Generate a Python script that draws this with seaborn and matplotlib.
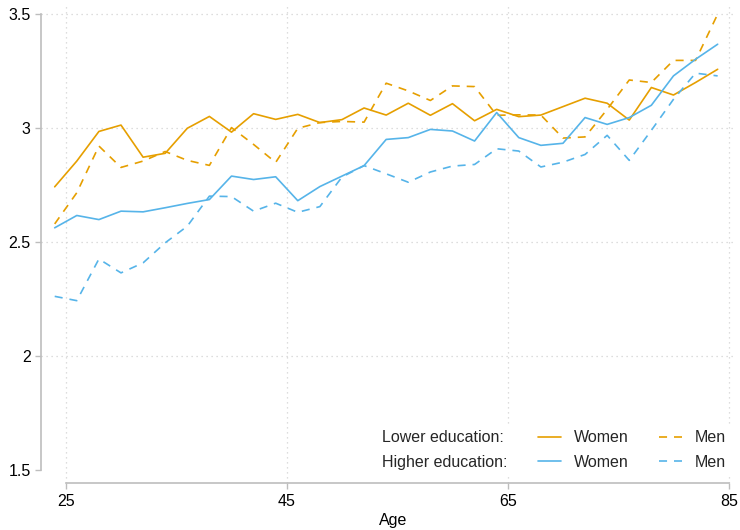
import matplotlib
matplotlib.use("Agg")
import matplotlib.pyplot as plt
from matplotlib.lines import Line2D
import numpy as np
import pandas as pd
import seaborn as sns

# Mean score by age, education group and sex
ages = [24, 26, 28, 30, 32, 34, 36, 38, 40, 42, 44, 46, 48, 50, 52, 54,
        56, 58, 60, 62, 64, 66, 68, 70, 72, 74, 76, 78, 80, 82, 84]

women_lower = [2.742, 2.855, 2.985, 3.013, 2.872, 2.889, 2.999, 3.051, 2.982, 3.063,
               3.038, 3.060, 3.024, 3.037, 3.088, 3.057, 3.109, 3.056, 3.107, 3.032,
               3.082, 3.050, 3.057, 3.094, 3.131, 3.109, 3.035, 3.178, 3.145, 3.200,
               3.258]
men_lower = [2.579, 2.716, 2.921, 2.827, 2.855, 2.897, 2.858, 2.836, 3.002, 2.928,
             2.849, 2.999, 3.024, 3.029, 3.026, 3.197, 3.163, 3.121, 3.185, 3.182,
             3.056, 3.058, 3.057, 2.956, 2.961, 3.082, 3.211, 3.200, 3.297, 3.297,
             3.500]
women_higher = [2.562, 2.616, 2.598, 2.635, 2.632, 2.650, 2.669, 2.686, 2.789, 2.774,
                2.786, 2.681, 2.743, 2.789, 2.835, 2.950, 2.958, 2.994, 2.987, 2.943,
                3.068, 2.958, 2.924, 2.933, 3.046, 3.016, 3.046, 3.100, 3.229, 3.302,
                3.368]
men_higher = [2.261, 2.242, 2.425, 2.364, 2.408, 2.496, 2.569, 2.701, 2.699, 2.635,
              2.670, 2.630, 2.655, 2.785, 2.835, 2.799, 2.762, 2.807, 2.833, 2.840,
              2.909, 2.899, 2.829, 2.850, 2.884, 2.968, 2.858, 2.990, 3.126, 3.241,
              3.229]

x_ticks = [25, 45, 65, 85]
y_ticks = [1.5, 2, 2.5, 3, 3.5]
y_tick_labels = ["1.5", "2", "2.5", "3", "3.5"]

ORANGE = "#E69F00"
BLUE = "#56B4E9"
AXIS_GREY = "#bdbdbd"
GRID_GREY = "#d2d2d2"
FS = 11.5

frames = []
for edu, sex, vals in [("Lower", "Women", women_lower), ("Lower", "Men", men_lower),
                       ("Higher", "Women", women_higher), ("Higher", "Men", men_higher)]:
    frames.append(pd.DataFrame({"age": ages, "score": vals, "edu": edu, "sex": sex}))
df = pd.concat(frames, ignore_index=True)

sns.set_theme(style="white")
plt.rcParams["font.family"] = ["Liberation Sans", "DejaVu Sans"]

LW = 1.2
DASH = (0, (5.8 / LW, 5.0 / LW))
fig = plt.figure(figsize=(7.4, 5.3), dpi=100)
ax = fig.add_axes([41 / 740, 1 - 483.3 / 530, 694 / 740, (483.3 - 3.7) / 530])

sns.lineplot(data=df, x="age", y="score", hue="edu", style="sex",
             palette={"Lower": ORANGE, "Higher": BLUE},
             dashes={"Women": "", "Men": DASH[1]},
             linewidth=LW, legend=False, ax=ax, zorder=3)

ax.set_xlim(22.76, 85.57)
ax.set_ylim(1.44, 3.546)

ax.set_xticks(x_ticks)
ax.set_xticklabels([str(t) for t in x_ticks])
ax.set_yticks(y_ticks)
ax.set_yticklabels(y_tick_labels)

# dotted grid at interior reference values
for gx in x_ticks:
    ax.axvline(gx, color=GRID_GREY, lw=0.9, ls=(0, (1, 3)), zorder=1)
for gy in [2, 2.5, 3, 3.5]:
    ax.axhline(gy, color=GRID_GREY, lw=0.9, ls=(0, (1, 3)), zorder=1)

for side in ["top", "right"]:
    ax.spines[side].set_visible(False)
ax.spines["left"].set_bounds(1.5, 3.5)
ax.spines["bottom"].set_bounds(25, 85)
for side in ["left", "bottom"]:
    ax.spines[side].set_color(AXIS_GREY)
    ax.spines[side].set_linewidth(1.2)

ax.tick_params(axis="both", direction="out", length=4.5, width=1.0,
               color=AXIS_GREY, labelcolor="black", labelsize=FS, pad=3,
               left=True, bottom=True)

ax.set_xlabel("Age", fontsize=FS, color="black")
ax.xaxis.set_label_coords(0.508, -0.062)
ax.set_ylabel("")

blank = Line2D([], [], color="none")
handles = [blank, blank,
           Line2D([], [], color=ORANGE, lw=LW),
           Line2D([], [], color=BLUE, lw=LW),
           Line2D([], [], color=ORANGE, lw=LW, ls=DASH),
           Line2D([], [], color=BLUE, lw=LW, ls=DASH)]
labels = ["Lower education:", "Higher education:", "Women", "Women", "Men", "Men"]
leg = ax.legend(handles, labels, ncol=3, loc="lower right",
                bbox_to_anchor=(732 / 740, 1 - 476 / 530),
                bbox_transform=fig.transFigure,
                fontsize=FS, frameon=True, fancybox=False,
                handlelength=1.4, handletextpad=0.8, columnspacing=1.95,
                labelspacing=0.58, borderpad=0.4, borderaxespad=0)
leg.get_frame().set_facecolor("white")
leg.get_frame().set_edgecolor("none")
leg.get_frame().set_alpha(1)
leg.set_zorder(5)

fig.savefig("out.png", dpi=100, facecolor="white")
